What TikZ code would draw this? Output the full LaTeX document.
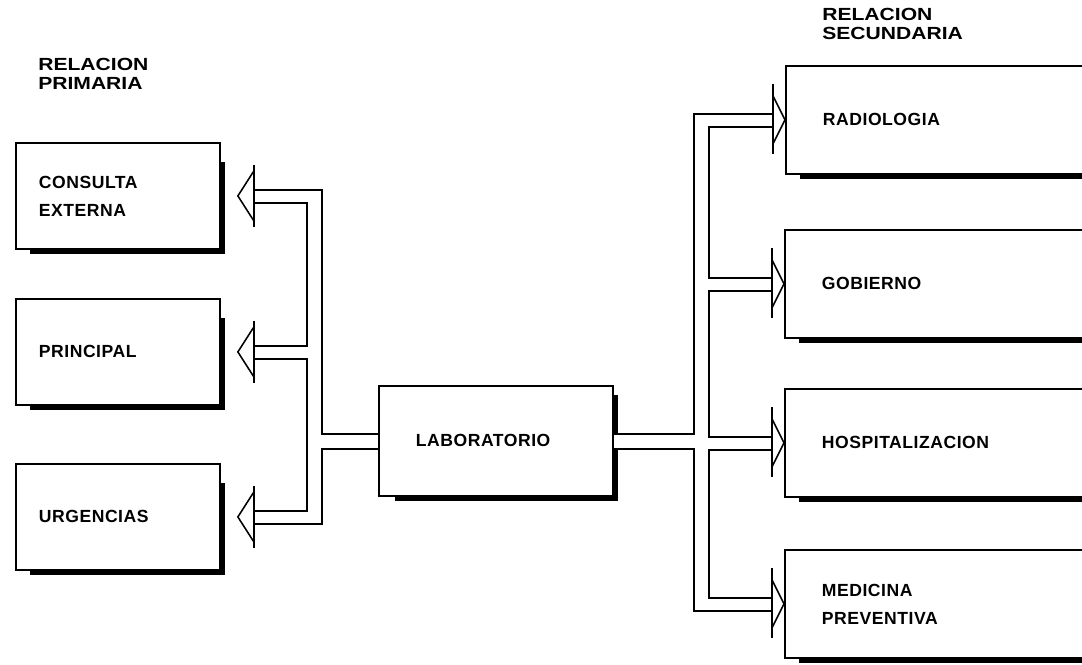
\documentclass[tikz,border=0pt]{standalone}
\usepackage{fontspec}
\setmainfont{Liberation Sans}[LetterSpace=3]
\newfontfamily\headfont{Liberation Sans}[FakeStretch=1.2]
\begin{document}
\begin{tikzpicture}[
  x=0.025cm, y=-0.025cm,
  font=\fontsize{12.5}{20}\selectfont\bfseries,
  block/.style={draw, line width=1.3pt, anchor=north west, align=left, inner ysep=0pt},
  leftblock/.style={block, text width=3.95cm, inner xsep=0.575cm, minimum height=2.65cm},
  labblock/.style={block, text width=4cm, inner xsep=0.925cm, minimum height=2.75cm},
  rightblock/.style={block, text width=6.5cm, inner xsep=0.925cm, minimum height=2.7cm},
  heading/.style={font=\headfont\bfseries\fontsize{12.5}{13.5}\selectfont, anchor=north west, align=left, inner sep=0pt},
  pipe/.style={line width=1.1pt},
  shadowline/.style={line width=3pt},
]
\useasboundingbox (0,0) rectangle (1082,664);
\clip (0,0) rectangle (1082,664);

% headings
\node[heading] (prim) at (38,58) {RELACION\\PRIMARIA};
\node[heading] (secu) at (822,8) {RELACION\\SECUNDARIA};

% units
\node[leftblock] (cons) at (15,142) {CONSULTA\\EXTERNA};
\node[leftblock] (prin) at (15,298) {PRINCIPAL};
\node[leftblock] (urg) at (15,463) {URGENCIAS};
\node[labblock] (lab) at (378,385) {LABORATORIO};
\node[rightblock] (radio) at (785,65) {RADIOLOGIA};
\node[rightblock] (gob) at (784,229) {GOBIERNO};
\node[rightblock] (hosp) at (784,388) {HOSPITALIZACION};
\node[rightblock] (med) at (784,549) {MEDICINA\\PREVENTIVA};

% left arrows
\foreach \n in {cons,prin,urg} {
  \draw[shadowline] ([shift={(2,20)}]\n.north east) -- ([shift={(2,2)}]\n.south east) -- ([shift={(15,2)}]\n.south west);
  \coordinate (\n-tip) at ([shift={(17,0)}]\n.east);
  \coordinate (\n-a) at ([shift={(16,-6)}]\n-tip);
  \coordinate (\n-b) at ([shift={(16,7)}]\n-tip);
  \draw[pipe] (\n-tip) ++(16,-25) -- (\n-tip) -- ++(16,25);
  \draw[pipe] (\n-tip) ++(16,-31) -- ++(0,62);
}

% right arrows
\foreach \n in {radio,gob,hosp,med} {
  \draw[shadowline] ([shift={(15,2)}]\n.south west) -- ([shift={(0,2)}]\n.south east);
  \coordinate (\n-tip) at (\n.west);
  \coordinate (\n-a) at ([shift={(-12,-6)}]\n-tip);
  \coordinate (\n-b) at ([shift={(-12,7)}]\n-tip);
  \draw[pipe] (\n-tip) ++(-12,-24) -- (\n-tip) -- ++(-12,24);
  \draw[pipe] (\n-tip) ++(-12,-36) -- ++(0,70);
}

% laboratorio shadow and exits
\draw[shadowline] ([shift={(2,10)}]lab.north east) -- ([shift={(2,-7)}]lab.east);
\draw[shadowline] ([shift={(2,8)}]lab.east) -- ([shift={(2,2)}]lab.south east) -- ([shift={(17,2)}]lab.south west);
\coordinate (lab-a) at ([shift={(0,-7)}]lab.west);
\coordinate (lab-b) at ([shift={(0,8)}]lab.west);
\coordinate (lab-c) at ([shift={(0,-7)}]lab.east);
\coordinate (lab-d) at ([shift={(0,8)}]lab.east);

\coordinate (lo) at (322,0);
\coordinate (li) at (307,0);
\coordinate (ro) at (694,0);
\coordinate (ri) at (709,0);

% primary pipe
\draw[pipe] (cons-a) -- (cons-a -| lo) -- (lab-a -| lo) -- (lab-a);
\draw[pipe] (cons-b) -- (cons-b -| li) -- (prin-a -| li) -- (prin-a);
\draw[pipe] (prin-b) -- (prin-b -| li) -- (urg-a -| li) -- (urg-a);
\draw[pipe] (lab-b) -- (lab-b -| lo) -- (urg-b -| lo) -- (urg-b);

% secondary pipe
\draw[pipe] (lab-c) -- (lab-c -| ro) -- (radio-a -| ro) -- (radio-a);
\draw[pipe] (radio-b) -- (radio-b -| ri) -- (gob-a -| ri) -- (gob-a);
\draw[pipe] (gob-b) -- (gob-b -| ri) -- (hosp-a -| ri) -- (hosp-a);
\draw[pipe] (hosp-b) -- (hosp-b -| ri) -- (med-a -| ri) -- (med-a);
\draw[pipe] (lab-d) -- (lab-d -| ro) -- (med-b -| ro) -- (med-b);
\end{tikzpicture}
\end{document}
